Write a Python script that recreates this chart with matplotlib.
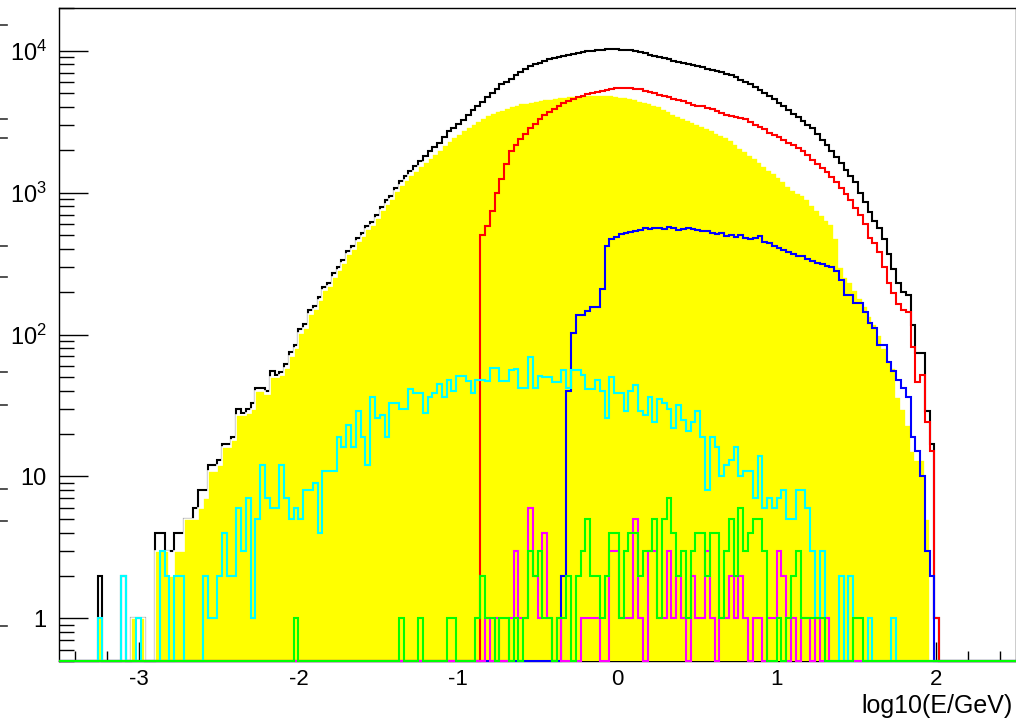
import numpy as np
import matplotlib
matplotlib.use('Agg')
import matplotlib.pyplot as plt
from matplotlib.lines import Line2D
from matplotlib.ticker import FixedLocator, FixedFormatter, LogLocator, MultipleLocator, NullFormatter

plt.rcParams['font.family'] = ['Liberation Sans', 'DejaVu Sans']
plt.rcParams['mathtext.fontset'] = 'custom'
plt.rcParams['mathtext.rm'] = 'Liberation Sans'
plt.rcParams['mathtext.it'] = 'Liberation Sans:italic'

# binning in log10(E/GeV)
x_min, x_max, n_bins = -3.5, 2.5, 200
y_floor, y_top = 0.5, 2e4

# counts per bin, each list starts at the given bin index
black_first = 8
black_counts = [
    2, 0, 0, 0, 0, 2, 0, 1, 1, 1,                                  # 8-17
    0, 0, 4, 4, 3, 3, 4, 4, 5, 5,
    6, 8, 8, 12, 12, 13, 17, 17, 19, 30,
    28, 30, 33, 42, 42, 40, 55, 52, 54, 62,
    75, 85, 110, 118, 150, 160, 185, 215, 230, 270,
    300, 335, 390, 420, 480, 520, 580, 620, 700, 790,                # 58-67
    880, 950, 1080, 1200, 1310, 1420, 1550, 1680, 1800, 1950,
    2100, 2250, 2450, 2700, 2850, 3050, 3250, 3550, 3800, 4100,
    4350, 4700, 5000, 5400, 5800, 6050, 6350, 6700, 7100, 7450,
    7800, 8000, 8250, 8450, 8700, 8900, 9100, 9200, 9400, 9500,
    9700, 9750, 9900, 10000, 10050, 10100, 10200, 10250, 10200, 10150,  # 108-117
    10100, 10050, 9900, 9750, 9600, 9400, 9250, 9050, 8900, 8700,
    8500, 8350, 8200, 8100, 7950, 7800, 7650, 7450, 7300, 7150,
    7050, 6900, 6750, 6500, 6250, 6000, 5800, 5550, 5300, 5050,
    4800, 4550, 4300, 4050, 3800, 3600, 3400, 3200, 3000, 2850,
    2600, 2350, 2150, 1950, 1780, 1620, 1450, 1300, 1180, 1000,      # 158-167
    860, 730, 630, 560, 470, 370, 290, 230, 200, 191,
    117, 74, 74, 29, 17, 1,
]

yellow_first = 8
yellow_counts = [
    1, 0, 0, 0, 0, 0, 0, 1, 0, 1,
    0, 0, 3, 3, 3, 2, 3, 3, 5, 5,
    5, 6, 7, 11, 11, 12, 16, 16, 18, 27,
    27, 28, 30, 40, 40, 38, 50, 50, 52, 58,
    70, 80, 103, 112, 140, 152, 175, 205, 220, 255,
    285, 320, 370, 400, 455, 495, 550, 590, 665, 750,
    830, 900, 1020, 1130, 1230, 1330, 1430, 1540, 1650, 1760,
    1880, 2000, 2150, 2300, 2450, 2600, 2750, 2900, 3050, 3200,
    3350, 3500, 3620, 3750, 3850, 3950, 4050, 4150, 4250, 4300,
    4380, 4450, 4500, 4550, 4600, 4650, 4700, 4720, 4760, 4800,
    4820, 4850, 4870, 4880, 4900, 4900, 4880, 4850, 4800, 4750,
    4700, 4620, 4550, 4450, 4350, 4250, 4150, 4050, 3900, 3750,
    3600, 3450, 3350, 3250, 3150, 3050, 2950, 2850, 2750, 2650,
    2550, 2450, 2350, 2200, 2050, 1950, 1850, 1750, 1650, 1550,
    1450, 1370, 1280, 1200, 1120, 1050, 1000, 960, 900, 820,
    760, 700, 640, 600, 480, 300, 256, 233, 207, 180,
    160, 135, 118, 100, 80, 65, 58, 36, 30, 23,
    15, 13, 13, 5,
]

red_first = 88
red_counts = [
    500, 580, 740, 1000, 1250, 1600, 1950, 2150, 2400, 2600,
    2850, 3050, 3300, 3500, 3700, 3900, 4100, 4250, 4450, 4550,
    4700, 4800, 4950, 5050, 5150, 5200, 5300, 5350, 5450, 5500,
    5450, 5450, 5400, 5350, 5200, 5100, 5000, 4900, 4800, 4700,
    4600, 4500, 4400, 4250, 4150, 4100, 4050, 3950, 3900, 3750,
    3650, 3550, 3450, 3400, 3350, 3300, 3150, 3000, 2900, 2800,
    2650, 2550, 2450, 2350, 2250, 2150, 2050, 1950, 1850, 1700,
    1600, 1500, 1400, 1280, 1180, 1080, 980, 880, 780, 690,
    600, 480, 440, 380, 300, 230, 195, 165, 150, 143,
    82, 46, 52, 24, 15, 1,
]

blue_first = 105
blue_counts = [
    2, 40, 103, 137, 137, 146, 157, 157, 210, 420,
    470, 490, 510, 520, 530, 540, 545, 560, 555, 560,
    565, 555, 570, 560, 545, 555, 560, 550, 545, 540,
    535, 520, 510, 515, 495, 500, 490, 505, 475, 470,
    480, 495, 450, 440, 420, 410, 395, 380, 370, 360,
    355, 340, 330, 320, 315, 305, 300, 280, 244, 191,
    191, 168, 168, 145, 121, 112, 85, 85, 64, 55,
    48, 42, 36, 19, 15, 10, 3, 2,
]

cyan_first = 8
cyan_counts = [
    1, 0, 0, 0, 0, 2, 0, 0, 1, 0,
    0, 0, 0, 3, 2, 0, 2, 2, 0, 0,
    0, 0, 2, 1, 1, 2, 4, 2, 2, 6,
    3, 7, 1, 5, 12, 7, 6, 6, 12, 7,
    5, 6, 5, 8, 8, 9, 4, 11, 11, 11,
    19, 16, 23, 16, 29, 19, 12, 36, 26, 27,
    19, 33, 33, 30, 30, 41, 39, 39, 28, 36,
    39, 45, 36, 48, 40, 51, 51, 47, 39, 48,
    48, 47, 58, 58, 47, 47, 56, 57, 42, 42,
    69, 42, 51, 50, 50, 46, 46, 56, 42, 56,
    56, 52, 41, 41, 48, 40, 26, 50, 39, 39,
    29, 40, 44, 29, 27, 36, 24, 35, 33, 30,
    22, 32, 25, 21, 24, 29, 19, 8, 19, 16,
    10, 12, 13, 16, 10, 11, 11, 7, 14, 6,
    7, 6, 7, 8, 5, 5, 8, 8, 6, 3,
    1, 3, 1, 0, 0, 2, 0, 2, 0, 0,
    0, 1, 0, 0, 0, 0, 1,
]

magenta_first = 89
magenta_counts = [
    1, 0, 1, 0, 0, 1, 3, 1, 1, 6,
    2, 1, 4, 1, 0, 1, 0, 0, 0, 0,
    1, 1, 1, 1, 0, 0, 3, 3, 1, 1,
    1, 5, 1, 0, 3, 3, 1, 1, 3, 1,
    2, 1, 0, 2, 1, 1, 3, 1, 0, 1,
    1, 2, 1, 2, 1, 0, 1, 1, 0, 1,
    1, 3, 2, 0, 1, 0, 1, 1, 0, 1,
    0, 1,
]

green_first = 49
green_counts = [
    1, 0, 0, 0, 0, 0, 0, 0, 0, 0,
    0, 0, 0, 0, 0, 0, 0, 0, 0, 0,
    0, 0, 1, 0, 0, 0, 1, 0, 0, 0,
    0, 0, 1, 1, 0, 0, 0, 0, 1, 2,
    1, 1, 0, 1, 1, 0, 1, 0, 1, 3,
    2, 3, 1, 1, 0, 1, 1, 2, 0, 2,
    3, 5, 2, 2, 1, 2, 4, 4, 1, 3,
    4, 4, 2, 3, 3, 5, 1, 5, 7, 4,
    2, 3, 1, 3, 4, 4, 2, 4, 4, 1,
    3, 5, 2, 6, 3, 4, 5, 5, 3, 0,
    0, 1, 0, 1, 2, 3, 1, 1, 1, 1,
    1, 0, 0, 0, 0, 0, 0, 1, 1,
]

x_ticks = [-3, -2, -1, 0, 1, 2]
x_tick_labels = ['-3', '-2', '-1', '0', '1', '2']
y_ticks = [1, 10, 100, 1000, 10000]
y_tick_labels = ['1', '10', r'$\mathregular{10^{2}}$', r'$\mathregular{10^{3}}$', r'$\mathregular{10^{4}}$']
x_title = 'log10(E/GeV)'


def full_hist(first, counts):
    h = np.zeros(n_bins)
    h[first:first + len(counts)] = counts
    return h


def on_floor(h):
    # empty bins sit on the bottom of the frame in log scale
    return np.where(h > 0, h, y_floor)


edges = np.linspace(x_min, x_max, n_bins + 1)

fig = plt.figure(figsize=(10.16, 7.18), dpi=100)
ax = fig.add_axes([59.3 / 1016, 57 / 718, 956.5 / 1016, 653 / 718])
ax.set_yscale('log')

black = full_hist(black_first, black_counts)
yellow = full_hist(yellow_first, yellow_counts)
red = full_hist(red_first, red_counts)
blue = full_hist(blue_first, blue_counts)
cyan = full_hist(cyan_first, cyan_counts)
magenta = full_hist(magenta_first, magenta_counts)
green = full_hist(green_first, green_counts)

lw = 1.5
ax.stairs(on_floor(black), edges, baseline=None, color='black', lw=lw, zorder=3, clip_on=False)
ax.stairs(on_floor(yellow), edges, baseline=y_floor, fill=True, color='#ffff00', zorder=4)
ax.stairs(on_floor(yellow), edges, baseline=None, color='white', lw=1.2, zorder=4.1)
for h, col, z in [(red, '#ff0000', 5), (blue, '#0000ff', 6), (cyan, '#00ffff', 7),
                  (magenta, '#ff00ff', 8), (green, '#00ff00', 9)]:
    ax.stairs(on_floor(h), edges, baseline=None, color=col, lw=lw, zorder=z, clip_on=False)

ax.set_xlim(x_min, x_max)
ax.set_ylim(y_floor, y_top)

ax.xaxis.set_major_locator(FixedLocator(x_ticks))
ax.xaxis.set_major_formatter(FixedFormatter(x_tick_labels))
ax.xaxis.set_minor_locator(MultipleLocator(0.2))
ax.yaxis.set_major_locator(FixedLocator(y_ticks))
ax.yaxis.set_major_formatter(FixedFormatter(y_tick_labels))
ax.yaxis.set_minor_locator(LogLocator(base=10, subs=np.arange(2, 10)))
ax.yaxis.set_minor_formatter(NullFormatter())

ax.tick_params(axis='x', which='major', direction='in', length=14, width=1,
               labelsize=16, pad=6, top=False)
ax.tick_params(axis='x', which='minor', direction='in', length=7, width=1, top=False)
ax.tick_params(axis='y', which='major', direction='in', length=21, width=1,
               labelsize=17, pad=9, right=False)
ax.tick_params(axis='y', which='minor', direction='in', length=11, width=1, right=False)
for sp in ax.spines.values():
    sp.set_linewidth(1.0)

fig.text(1013 / 1016, 5.5 / 718, x_title, ha='right', va='baseline', fontsize=18)

# tick stubs of the neighbouring pad at the left edge
for yp in [25, 119, 138, 246, 277, 372, 405, 489, 521, 626]:
    fig.add_artist(Line2D([0, 7 / 1016], [1 - yp / 718] * 2, color='#333333', lw=1.2))

fig.savefig('out.png', dpi=100)
